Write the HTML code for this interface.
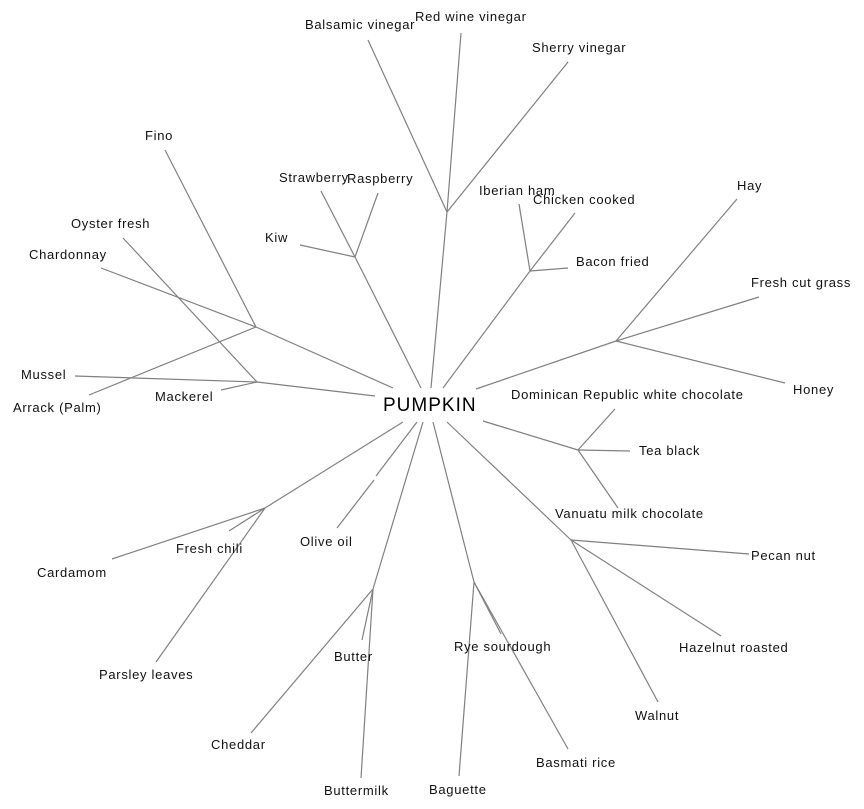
<!DOCTYPE html>
<html><head><meta charset="utf-8"><style>
html,body{margin:0;padding:0;background:#fff;}
svg{display:block;}
text{font-family:"Liberation Sans",Arial,sans-serif;font-size:13px;fill:#111;letter-spacing:0.7px;}
line{stroke:#808080;stroke-width:1.2;}
</style></head><body>
<svg width="864" height="809" viewBox="0 0 864 809" xmlns="http://www.w3.org/2000/svg">
<g>
<line x1="393" y1="388" x2="256" y2="327"/>
<line x1="375" y1="396" x2="257" y2="382"/>
<line x1="421" y1="388" x2="355" y2="257"/>
<line x1="431" y1="388" x2="447" y2="212"/>
<line x1="443" y1="388" x2="530" y2="271"/>
<line x1="476" y1="389" x2="616" y2="341"/>
<line x1="483" y1="421" x2="578" y2="450"/>
<line x1="447" y1="422" x2="571" y2="540"/>
<line x1="433" y1="422" x2="474" y2="582"/>
<line x1="423" y1="422" x2="373" y2="589"/>
<line x1="417" y1="422" x2="376" y2="476"/>
<line x1="374" y1="480" x2="337" y2="528"/>
<line x1="403" y1="422" x2="265" y2="508"/>
<line x1="256" y1="327" x2="165" y2="150"/>
<line x1="256" y1="327" x2="101" y2="268"/>
<line x1="256" y1="327" x2="89" y2="395"/>
<line x1="257" y1="382" x2="75" y2="376"/>
<line x1="257" y1="382" x2="221" y2="390"/>
<line x1="257" y1="382" x2="123" y2="238"/>
<line x1="355" y1="257" x2="321" y2="191"/>
<line x1="355" y1="257" x2="378" y2="193"/>
<line x1="355" y1="257" x2="300" y2="245"/>
<line x1="447" y1="212" x2="368" y2="40"/>
<line x1="447" y1="212" x2="461" y2="33"/>
<line x1="447" y1="212" x2="568" y2="62"/>
<line x1="530" y1="271" x2="519" y2="204"/>
<line x1="530" y1="271" x2="575" y2="213"/>
<line x1="530" y1="271" x2="568" y2="268"/>
<line x1="616" y1="341" x2="737" y2="199"/>
<line x1="616" y1="341" x2="759" y2="297"/>
<line x1="616" y1="341" x2="785" y2="383"/>
<line x1="578" y1="450" x2="615" y2="409"/>
<line x1="578" y1="450" x2="630" y2="451"/>
<line x1="578" y1="450" x2="618" y2="508"/>
<line x1="571" y1="540" x2="749" y2="554"/>
<line x1="571" y1="540" x2="721" y2="636"/>
<line x1="571" y1="540" x2="658" y2="702"/>
<line x1="474" y1="582" x2="501" y2="634"/>
<line x1="474" y1="582" x2="459" y2="776"/>
<line x1="474" y1="582" x2="568" y2="749"/>
<line x1="373" y1="589" x2="362" y2="640"/>
<line x1="373" y1="589" x2="251" y2="733"/>
<line x1="373" y1="589" x2="361" y2="778"/>
<line x1="265" y1="508" x2="112" y2="559"/>
<line x1="265" y1="508" x2="229" y2="531"/>
<line x1="265" y1="508" x2="156" y2="662"/>
</g>
<text x="383" y="411" style="font-size:19px;fill:#000;letter-spacing:1px">PUMPKIN</text>
<text x="145" y="140">Fino</text>
<text x="71" y="228">Oyster fresh</text>
<text x="29" y="259">Chardonnay</text>
<text x="21" y="379">Mussel</text>
<text x="13" y="412">Arrack (Palm)</text>
<text x="155" y="401">Mackerel</text>
<text x="279" y="182">Strawberry</text>
<text x="347" y="183">Raspberry</text>
<text x="265" y="242">Kiw</text>
<text x="305" y="29">Balsamic vinegar</text>
<text x="415" y="21">Red wine vinegar</text>
<text x="532" y="52">Sherry vinegar</text>
<text x="479" y="195">Iberian ham</text>
<text x="533" y="204">Chicken cooked</text>
<text x="576" y="266">Bacon fried</text>
<text x="737" y="190">Hay</text>
<text x="751" y="287">Fresh cut grass</text>
<text x="793" y="394">Honey</text>
<text x="511" y="399">Dominican Republic white chocolate</text>
<text x="639" y="455">Tea black</text>
<text x="555" y="518">Vanuatu milk chocolate</text>
<text x="751" y="560">Pecan nut</text>
<text x="679" y="652">Hazelnut roasted</text>
<text x="635" y="720">Walnut</text>
<text x="454" y="651">Rye sourdough</text>
<text x="536" y="767">Basmati rice</text>
<text x="429" y="794">Baguette</text>
<text x="334" y="661">Butter</text>
<text x="211" y="749">Cheddar</text>
<text x="324" y="795">Buttermilk</text>
<text x="300" y="546">Olive oil</text>
<text x="176" y="553">Fresh chili</text>
<text x="37" y="577">Cardamom</text>
<text x="99" y="679">Parsley leaves</text>
</svg>
</body></html>
